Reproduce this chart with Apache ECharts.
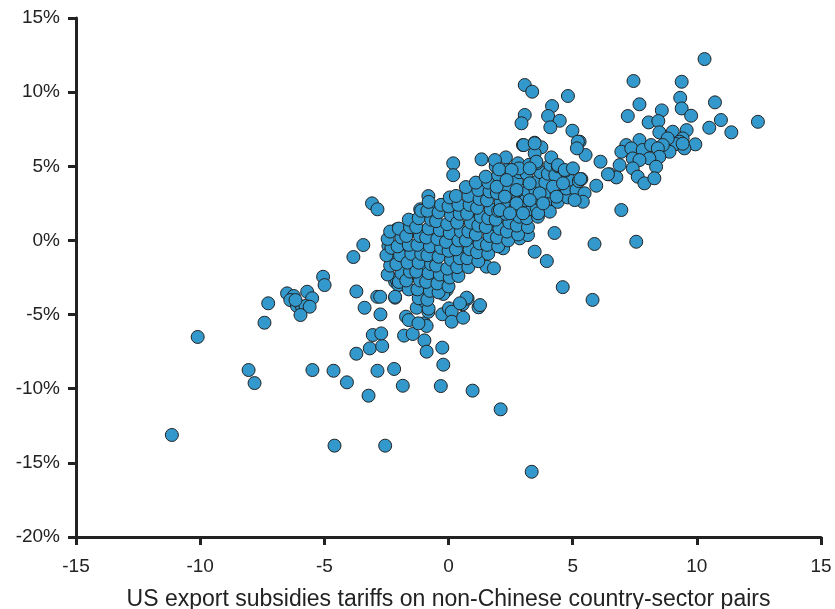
<!DOCTYPE html>
<html><head><meta charset="utf-8">
<script src="https://cdn.jsdelivr.net/npm/echarts@6/dist/echarts.min.js"></script>
<style>html,body{margin:0;padding:0;background:#fff}#c{width:835px;height:609px}</style>
</head><body><div id="c"></div>
<script>
const xTicks = [-15, -10, -5, 0, 5, 10, 15];
const yTicks = [-20, -15, -10, -5, 0, 5, 10, 15];
const xAxisTitle = 'US export subsidies tariffs on non-Chinese country-sector pairs';

const leftTail = [
  [-11.14,-13.12],[-10.1,-6.51],[-8.05,-8.74],[-7.81,-9.62],[-7.26,-4.24],[-7.41,-5.55],
  [-6.5,-3.57],[-6.23,-3.75],[-6.37,-4.02],[-5.69,-3.46],[-5.49,-3.9],[-6.1,-4.42],[-5.9,-4.47],
  [-5.76,-4.42],[-5.59,-4.47],[-5.96,-5.03],[-6.16,-4.02],[-5.05,-2.45],[-4.99,-3.01]
];
const lowerScatter = [
  [-5.48,-8.74],[-4.63,-8.79],[-4.09,-9.57],[-3.22,-10.47],[-2.86,-8.79],[-2.19,-8.67],[-1.84,-9.8],
  [-0.31,-9.82],[0.97,-10.13],[2.1,-11.39],[-4.59,-13.84],[-2.55,-13.84],[3.35,-15.6],
  [-3.71,-7.64],[-3.17,-7.28],[-2.67,-7.12],[-3.05,-6.38],[-2.71,-6.27],[-1.79,-6.42],[-1.44,-6.31],
  [-0.97,-6.74],[-0.88,-7.5],[-0.25,-7.23],[-0.21,-8.38],[-3.71,-3.44],[-2.87,-3.8],[-3.38,-4.54],
  [-2.74,-4.99],[-2.15,-3.86],[-1.71,-5.14],[-1.6,-5.37],[-0.98,-5.59],[-0.88,-5.77],[-1.21,-5.59],
  [-1.28,-4.54],[-1.05,-3.9],[-0.94,-4.13],[-0.81,-4.81],[-0.25,-4.98],[0.02,-4.58],[0.13,-4.81],
  [0.13,-5.48],[0.59,-5.21],[0.57,-4.31],[0.77,-3.93],[1.21,-4.51],[-2.15,-2.78],[-1.95,-2.45],
  [-1.65,-2.22],[-2.0,-3.0],[-0.74,-3.34],[-0.34,-2.89],[-0.07,-3.34],[-0.21,-3.61],
  [-3.43,-0.31],[-3.83,-1.12],[4.6,-3.15],[5.8,-4.01],[5.88,-0.24],[3.96,-1.39],[3.47,-0.76],
  [4.27,0.5],[2.2,-0.53],[1.53,-1.77],[1.83,-1.88],[0.73,-3.86],[0.46,-4.24],[1.27,-4.36],
  [-2.22,-1.43],[-1.95,-1.66],[-2.08,-2.67],[-2.02,-3.0],[-2.15,-3.8],[-2.75,-3.8],[-1.61,-2.22]
];
const upperRight = [
  [10.31,12.23],[7.45,10.75],[9.39,10.7],[9.33,9.62],[10.73,9.31],[7.69,9.18],[8.59,8.77],[9.39,8.9],
  [9.77,8.41],[7.22,8.39],[10.97,8.12],[12.46,8.0],[10.5,7.6],[11.39,7.29],[8.06,7.96],[8.45,8.05],
  [8.49,7.29],[9.03,7.33],[9.59,7.44],[9.43,6.88],[9.3,6.66],[9.16,6.5],[9.94,6.48],[9.5,6.21],
  [9.43,6.52],[8.83,6.88],[8.9,5.98],[8.63,6.43],[7.69,6.77],[7.16,6.43],[6.96,5.98],[7.36,6.21],
  [7.82,6.1],[8.16,6.43],[8.43,6.21],[8.49,5.64],[8.09,5.53],[7.42,5.53],[7.69,5.42],[8.36,4.97],
  [7.42,4.86],[6.89,5.08],[6.49,4.46],[6.76,4.25],[7.62,4.3],[7.89,3.85],[8.29,4.19],[6.12,5.31],
  [5.52,5.76],[5.28,6.66],[5.35,4.14],[5.48,3.18],[5.41,2.61],[5.95,3.69],[6.96,2.05],[7.56,-0.09],
  [3.07,10.48],[3.37,10.03],[4.81,9.74],[4.17,9.06],[3.07,8.46],[2.94,7.9],[4.01,8.39],[4.48,8.07],
  [4.1,7.63],[4.99,7.4],[5.21,6.66],[5.17,6.21],[6.42,4.46],[3.0,6.43],[3.47,6.59],[3.74,6.28],
  [3.47,5.87],[3.54,5.31],[2.31,5.6],[1.87,5.42],[2.04,4.79],[2.84,4.86],[2.54,4.75],[3.27,4.86],
  [4.14,5.6],[4.41,5.08],[4.68,4.75],[5.01,4.86],[5.31,4.14],[5.08,2.72],[4.08,1.94],[3.61,1.83],
  [1.94,3.62],[2.34,4.07],[2.74,3.4],[3.27,3.85],[3.67,3.18],[4.21,3.62],[4.61,3.85],[4.35,2.95],
  [3.81,2.5],[3.27,2.72],[2.74,2.5],[2.27,2.95],[2.07,2.05],[3.0,1.83],[2.47,1.83],
  [0.19,5.2],[0.19,4.4],[1.33,5.47],[3.03,6.43],[3.47,6.55]
];
const coreCluster = [
  [-3.08,2.5],[-2.86,2.1],[-0.81,2.99],[-1.14,2.1],[-2.08,0.75],[-2.42,-0.38],[-0.61,2.23],
  [1.13,3.85],[-2.19,-1.43],[-1.68,-2.22],[-1.75,-0.42],[-1.75,-0.09],[-1.41,0.82],
  [-0.81,-0.42],[-0.41,-0.98],[0.33,-1.21],[0.86,-1.54],[-0.01,-2.0],[-0.81,-2.0],[-1.41,-1.1],
  [-1.21,-1.66],[-0.61,0.36],[-0.07,0.82],[0.33,0.03],[0.93,-0.09],[1.33,-0.42],[0.59,-0.53],
  [0.06,-0.53],[-0.47,-2.45],[-1.14,-2.56],[-1.14,-1.88],[2.87,0.14],[3.2,0.36],
  [1.06,1.44],[1.8,0.92],[2.34,1.15],[2.6,1.15],
  [-2.45,-2.3],[-2.35,-1.7],[-2.5,-1.0],[-2.3,-0.5],[-2.45,0.1],[-2.35,0.6],
  [-2.0,-2.8],[-1.9,-2.2],[-2.1,-1.6],[-1.95,-1.0],[-2.05,-0.4],[-1.9,0.2],[-2.0,0.8],
  [-1.6,-3.3],[-1.7,-2.7],[-1.55,-2.1],[-1.65,-1.5],[-1.5,-0.9],[-1.6,-0.3],[-1.7,0.3],[-1.55,0.9],[-1.6,1.4],
  [-1.2,-3.9],[-1.25,-3.3],[-1.15,-2.7],[-1.3,-2.1],[-1.2,-1.5],[-1.1,-0.9],[-1.25,-0.3],[-1.15,0.3],[-1.3,0.9],[-1.2,1.5],[-1.1,2.0],
  [-0.8,-4.6],[-0.85,-4.0],[-0.75,-3.4],[-0.9,-2.8],[-0.8,-2.2],[-0.7,-1.6],[-0.85,-1.0],[-0.75,-0.4],[-0.9,0.2],[-0.8,0.8],[-0.7,1.4],[-0.85,2.0],[-0.8,2.6],
  [-0.4,-3.5],[-0.45,-2.9],[-0.35,-2.3],[-0.5,-1.7],[-0.4,-1.1],[-0.3,-0.5],[-0.45,0.1],[-0.35,0.7],[-0.5,1.3],[-0.4,1.9],[-0.3,2.4],
  [0.0,-3.1],[0.05,-2.5],[-0.05,-1.9],[0.1,-1.3],[0.0,-0.7],[-0.1,-0.1],[0.05,0.5],[-0.05,1.1],[0.1,1.7],[0.0,2.3],[0.05,2.9],
  [0.4,-2.4],[0.35,-1.8],[0.45,-1.2],[0.3,-0.6],[0.4,0.0],[0.5,0.6],[0.35,1.2],[0.45,1.8],[0.4,2.4],[0.3,3.0],
  [0.8,-1.8],[0.75,-1.2],[0.85,-0.6],[0.7,0.0],[0.8,0.6],[0.9,1.2],[0.75,1.8],[0.85,2.4],[0.8,3.0],[0.7,3.6],
  [1.2,-1.4],[1.15,-0.8],[1.25,-0.2],[1.1,0.4],[1.2,1.0],[1.3,1.6],[1.15,2.2],[1.25,2.8],[1.2,3.4],[1.1,3.9],
  [1.6,-0.9],[1.55,-0.3],[1.65,0.3],[1.5,0.9],[1.6,1.5],[1.7,2.1],[1.55,2.7],[1.65,3.3],[1.6,3.9],[1.5,4.3],
  [2.0,-0.4],[1.95,0.2],[2.05,0.8],[1.9,1.4],[2.0,2.0],[2.1,2.6],[1.95,3.2],[2.05,3.8],[2.0,4.4],[1.9,5.0],
  [2.4,0.0],[2.35,0.6],[2.45,1.2],[2.3,1.8],[2.4,2.4],[2.5,3.0],[2.35,3.6],[2.45,4.2],[2.4,4.8],
  [2.8,0.4],[2.75,1.0],[2.85,1.6],[2.7,2.2],[2.8,2.8],[2.9,3.4],[2.75,4.0],[2.85,4.6],[2.8,5.2],
  [3.2,0.9],[3.15,1.5],[3.25,2.1],[3.1,2.7],[3.2,3.3],[3.3,3.9],[3.15,4.5],[3.25,5.1],
  [3.6,1.6],[3.55,2.2],[3.65,2.8],[3.5,3.4],[3.6,4.0],[3.7,4.6],[3.55,5.2],
  [4.0,2.1],[3.95,2.7],[4.05,3.3],[3.9,3.9],[4.0,4.5],[4.1,5.1],
  [4.4,2.6],[4.35,3.2],[4.45,3.8],[4.3,4.4],[4.4,5.0],
  [4.8,2.9],[4.75,3.5],[4.85,4.1],[4.7,4.7],
  [5.2,2.8],[5.15,3.4],[5.25,4.0]
];

const chart = echarts.init(document.getElementById('c'), null, {renderer: 'canvas'});
const axisColor = '#222';
const font = 'Liberation Sans, Arial, sans-serif';
chart.setOption({
  animation: false,
  grid: {left: 76, right: 14, top: 18, bottom: 72, containLabel: false, outerBoundsMode: 'none'},
  xAxis: {
    type: 'value', min: xTicks[0], max: xTicks[xTicks.length - 1], interval: 5,
    axisLine: {onZero: false, lineStyle: {color: axisColor, width: 3}},
    axisTick: {show: true, length: 8, lineStyle: {color: axisColor, width: 3}},
    splitLine: {show: false},
    axisLabel: {color: '#222', fontSize: 19, fontFamily: font, margin: 20},
    name: xAxisTitle, nameLocation: 'middle', nameGap: 51,
    nameTextStyle: {color: '#222', fontSize: 23, fontFamily: font}
  },
  yAxis: {
    type: 'value', min: yTicks[0], max: yTicks[yTicks.length - 1], interval: 5,
    axisLine: {show: true, onZero: false, lineStyle: {color: axisColor, width: 3}},
    axisTick: {show: true, length: 8, lineStyle: {color: axisColor, width: 3}},
    splitLine: {show: false},
    axisLabel: {color: '#222', fontSize: 19, fontFamily: font, margin: 16, formatter: v => v + '%'}
  },
  series: [{
    type: 'scatter',
    data: leftTail.concat(lowerScatter, coreCluster, upperRight),
    symbol: 'circle', symbolSize: 13,
    itemStyle: {color: '#3399cc', borderColor: '#222', borderWidth: 1, opacity: 1}
  }]
});
</script></body></html>
